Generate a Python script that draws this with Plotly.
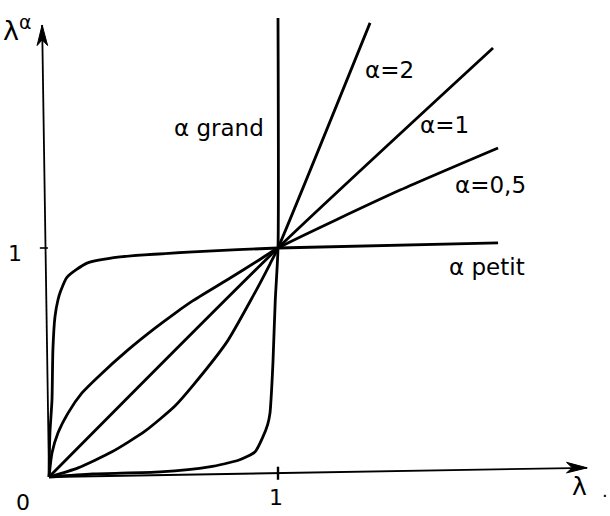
import plotly.graph_objects as go

# Curves of lambda^alpha (x = lambda, y = lambda^alpha)
alpha_grand_x = [0, 0.19, 0.485, 0.70, 0.83, 0.90, 0.934, 0.955, 0.965, 0.972, 0.978, 0.988, 1.0, 1.0]
alpha_grand_y = [0, 0.013, 0.022, 0.044, 0.074, 0.11, 0.175, 0.23, 0.279, 0.38, 0.5, 0.77, 1.0, 2.004]

alpha_petit_x = [0, 0.004, 0.013, 0.017, 0.026, 0.039, 0.052, 0.079, 0.166, 0.31, 0.629, 1.0, 1.961]
alpha_petit_y = [0, 0.192, 0.336, 0.555, 0.699, 0.773, 0.815, 0.873, 0.934, 0.961, 0.983, 1.0, 1.022]

alpha_half_x = [0, 0.013, 0.039, 0.083, 0.144, 0.214, 0.345, 0.463, 0.55, 0.629, 0.777, 0.921, 1.0, 1.533, 1.961]
alpha_half_y = [0, 0.105, 0.192, 0.279, 0.367, 0.437, 0.555, 0.65, 0.715, 0.77, 0.86, 0.95, 1.0, 1.253, 1.437]

alpha_one_x = [0, 1.0, 1.939]
alpha_one_y = [0, 1.0, 1.873]

alpha_two_x = [0, 0.127, 0.275, 0.419, 0.55, 0.629, 0.777, 0.891, 0.965, 1.0, 1.402]
alpha_two_y = [0, 0.04, 0.11, 0.2, 0.31, 0.40, 0.59, 0.79, 0.93, 1.0, 1.983]

# Curve labels: text and centre position in data units
curve_labels = ["α grand", "α=2", "α=1", "α=0,5", "α petit"]
curve_label_x = [0.742, 1.489, 1.729, 1.926, 1.913]
curve_label_y = [1.524, 1.777, 1.537, 1.275, 0.917]

tick_labels = ["1", "1", "0"]
tick_label_x = [0.99, -0.149, -0.113]
tick_label_y = [-0.09, 0.976, -0.112]

FONT = "DejaVu Sans"
INK = "black"

fig = go.Figure()

curves = [
    (alpha_grand_x, alpha_grand_y),
    (alpha_petit_x, alpha_petit_y),
    (alpha_half_x, alpha_half_y),
    (alpha_one_x, alpha_one_y),
    (alpha_two_x, alpha_two_y),
]
for xs, ys in curves:
    fig.add_trace(go.Scatter(
        x=xs, y=ys, mode="lines",
        line=dict(color=INK, width=2.8, shape="spline", smoothing=0.6),
        hoverinfo="skip", showlegend=False,
    ))

# Axes (slightly slanted, hand drawn) with arrowheads
x_tip = (2.35, 0.04)
y_tip = (-0.03, 1.974)
fig.add_shape(type="line", x0=0, y0=0, x1=x_tip[0], y1=x_tip[1], line=dict(color=INK, width=1.8))
fig.add_shape(type="line", x0=0, y0=0, x1=y_tip[0], y1=y_tip[1], line=dict(color=INK, width=1.8))
fig.add_shape(type="path",
              path=f"M {x_tip[0]},{x_tip[1]} L {x_tip[0]-0.09},{x_tip[1]+0.024} "
                   f"L {x_tip[0]-0.065},{x_tip[1]} L {x_tip[0]-0.09},{x_tip[1]-0.022} Z",
              fillcolor=INK, line=dict(color=INK, width=1))
fig.add_shape(type="path",
              path=f"M {y_tip[0]},{y_tip[1]} L {y_tip[0]-0.022},{y_tip[1]-0.09} "
                   f"L {y_tip[0]},{y_tip[1]-0.065} L {y_tip[0]+0.024},{y_tip[1]-0.09} Z",
              fillcolor=INK, line=dict(color=INK, width=1))

# Unit ticks
fig.add_shape(type="line", x0=1, x1=1, y0=-0.012, y1=0.045, line=dict(color=INK, width=2.4))
fig.add_shape(type="line", x0=-0.04, x1=-0.005, y0=1.0, y1=1.0, line=dict(color=INK, width=1.6))

for t, x, y in zip(curve_labels, curve_label_x, curve_label_y):
    fig.add_annotation(x=x, y=y, text=t, showarrow=False, xanchor="center", yanchor="middle",
                       font=dict(family=FONT, size=23, color=INK))

for t, x, y in zip(tick_labels, tick_label_x, tick_label_y):
    fig.add_annotation(x=x, y=y, text=t, showarrow=False, xanchor="center", yanchor="middle",
                       borderpad=0, font=dict(family=FONT, size=22, color=INK))

# Axis names
fig.add_annotation(x=2.318, y=-0.04, text="λ", showarrow=False, xanchor="center", yanchor="middle",
                   font=dict(family=FONT, size=25, color=INK))
fig.add_annotation(x=2.43, y=-0.06, text=".", showarrow=False, xanchor="center", yanchor="middle",
                   borderpad=0, font=dict(family=FONT, size=18, color=INK))
fig.add_annotation(x=-0.14, y=1.96, text="λ<sup>α</sup>", showarrow=False, xanchor="center",
                   yanchor="middle", font=dict(family=FONT, size=27, color=INK))

fig.update_layout(
    width=610, height=516,
    margin=dict(l=0, r=0, t=0, b=0),
    paper_bgcolor="white", plot_bgcolor="white",
    xaxis=dict(range=[-0.214, 2.4498], visible=False, fixedrange=True),
    yaxis=dict(range=[-0.1703, 2.083], visible=False, fixedrange=True),
)

fig.write_html("out.html")
